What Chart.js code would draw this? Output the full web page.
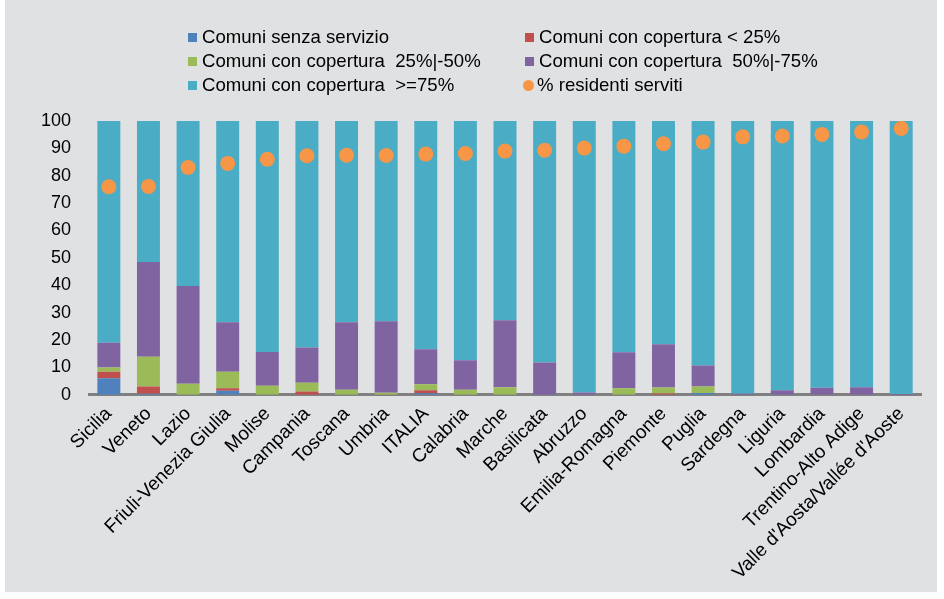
<!DOCTYPE html>
<html>
<head>
<meta charset="utf-8">
<script src="https://cdn.jsdelivr.net/npm/chart.js@4.4.1/dist/chart.umd.min.js"></script>
<style>
  html, body { margin:0; padding:0; background:#ffffff; }
  #wrap { position:relative; width:944px; height:599px; }
  #frame { position:absolute; left:5px; top:0; width:932px; height:592px; background:#E0E1E3; }
  canvas { position:absolute; left:0; top:0; }
  #legend { position:absolute; left:0; top:0; width:944px; height:110px; font-family:"Liberation Sans", Arial, sans-serif; font-size:18.6px; color:#000; }
  .item { position:absolute; display:flex; align-items:center; white-space:pre; }
  .sw { width:9px; height:9px; margin-right:5px; }
  .dot { width:11px; height:11px; border-radius:50%; margin-right:3px; }
</style>
</head>
<body>
<div id="wrap">
  <div id="frame"></div>
  <canvas id="c" width="944" height="599"></canvas>
  <div id="legend"></div>
</div>
<script>
const categories = ['Sicilia','Veneto','Lazio','Friuli-Venezia Giulia','Molise','Campania','Toscana','Umbria','ITALIA','Calabria','Marche','Basilicata','Abruzzo','Emilia-Romagna','Piemonte','Puglia','Sardegna','Liguria','Lombardia','Trentino-Alto Adige',"Valle d'Aosta/Vallée d'Aoste"];
const senzaServizio = [6.0,0.3,0,1.4,0,0,0,0,0.5,0,0,0,0,0,0,0.6,0,0,0,0,0];
const coperturaLt25 = [2.4,2.7,0,0.9,0,1.2,0,0,1.1,0,0,0,0,0,0.4,0,0,0,0,0,0];
const copertura25_50 = [1.5,10.9,4.0,6.1,3.3,3.2,1.8,0.7,2.2,1.8,2.7,0,0,2.3,2.2,2.4,0,0,0,0,0];
const copertura50_75 = [9.1,34.6,35.7,18.1,12.3,12.8,24.7,26.1,12.8,10.8,24.5,11.8,0.8,13.2,15.8,7.7,0.3,1.6,2.5,2.7,0.2];
const coperturaGe75 = [81.0,51.5,60.3,73.5,84.4,82.8,73.5,73.2,83.4,87.4,72.8,88.2,99.2,84.5,81.6,89.3,99.7,98.4,97.5,97.3,99.8];
const residentiServiti = [76.0,76.1,83.0,84.5,86.0,87.3,87.5,87.4,87.9,88.1,89.0,89.3,90.1,90.8,91.7,92.3,94.2,94.5,95.1,96.0,97.3];
const yTicks = [0,10,20,30,40,50,60,70,80,90,100];

const seriesNames = ['Comuni senza servizio','Comuni con copertura < 25%','Comuni con copertura  25%|-50%','Comuni con copertura  50%|-75%','Comuni con copertura  >=75%','% residenti serviti'];
const colors = ['#4F81BD','#C0504D','#9BBB59','#8064A2','#4BACC6','#F79646'];
const barSeries = [senzaServizio, coperturaLt25, copertura25_50, copertura50_75, coperturaGe75];

const FONT = '"Liberation Sans", Arial, sans-serif';

const datasets = barSeries.map((d, i) => ({
  type: 'bar', label: seriesNames[i], data: d, backgroundColor: colors[i],
  borderWidth: 0, barPercentage: 0.58, categoryPercentage: 1.0, stack: 's', order: 2
}));
datasets.push({
  type: 'line', label: seriesNames[5], data: residentiServiti, showLine: false,
  pointRadius: 7.5, pointHoverRadius: 7.5, pointBackgroundColor: colors[5], pointBorderWidth: 0,
  borderColor: colors[5], backgroundColor: colors[5], stack: 'dots', order: 0
});

new Chart(document.getElementById('c'), {
  data: { labels: categories, datasets },
  options: {
    responsive: false, animation: false,
    layout: { padding: { top: 121, left: 23, right: 23, bottom: 7 } },
    plugins: { legend: { display: false }, tooltip: { enabled: false } },
    scales: {
      x: {
        stacked: true,
        afterFit: (s) => { s.paddingLeft = 0; s.paddingRight = 0; },
        grid: { display: false, drawTicks: false },
        border: { display: true, color: '#808080', width: 3 },
        ticks: { color: '#000', font: { family: FONT, size: 19 }, minRotation: 45, maxRotation: 45, autoSkip: false, padding: 8 }
      },
      y: {
        stacked: true, min: 0, max: 100,
        afterBuildTicks: (s) => { s.ticks = yTicks.map(v => ({ value: v })); },
        grid: { display: false, drawTicks: false },
        border: { display: false },
        ticks: { color: '#000', font: { family: FONT, size: 18 }, padding: 18 }
      }
    }
  }
});

// legend
const leg = document.getElementById('legend');
const pos = [[188,37],[525,37],[188,61],[525,61],[188,85],[523,85]];
seriesNames.forEach((n, i) => {
  const el = document.createElement('div');
  el.className = 'item';
  el.style.left = pos[i][0] + 'px';
  el.style.top = (pos[i][1] - 11) + 'px';
  const sw = document.createElement('span');
  sw.className = i === 5 ? 'dot' : 'sw';
  sw.style.background = colors[i];
  const t = document.createElement('span');
  t.textContent = n;
  el.appendChild(sw); el.appendChild(t);
  leg.appendChild(el);
});
</script>
</body>
</html>
